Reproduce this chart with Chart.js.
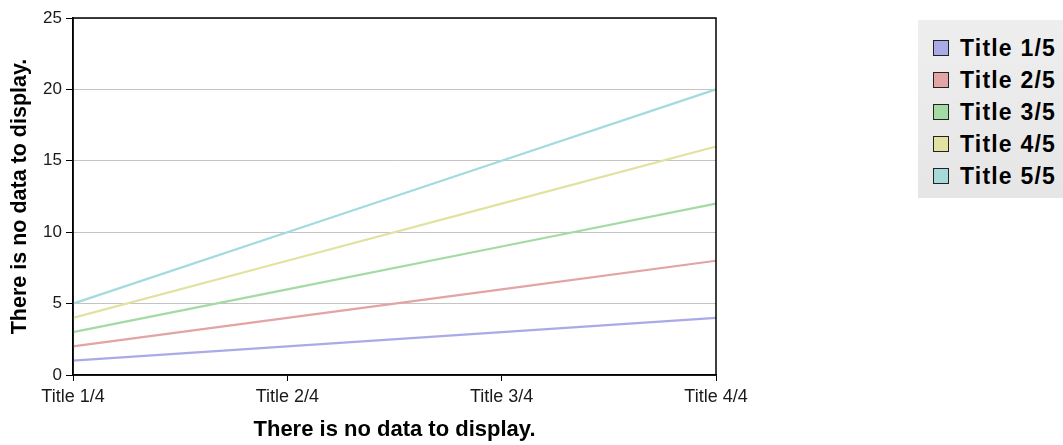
<!DOCTYPE html>
<html>
<head>
<meta charset="utf-8">
<script src="https://cdn.jsdelivr.net/npm/chart.js@4"></script>
<style>
  body { margin: 0; background: #fff; font-family: "Liberation Sans", Arial, sans-serif; }
  #wrap { position: relative; width: 1063px; height: 445px; }
  #legenda {
    position: absolute; left: 918px; top: 20px; width: 145px; height: 178px;
    background: linear-gradient(#eeeeee, #e6e6e6);
    box-sizing: border-box; padding-top: 12px; padding-left: 15px;
  }
  .item { height: 32px; display: flex; align-items: center; font-weight: bold; font-size: 23px; letter-spacing: 1.2px; color: #000; }
  .caixa { width: 14px; height: 14px; border: 1.5px solid #222; margin-right: 11px; flex: none; }
</style>
</head>
<body>
<div id="wrap">
  <canvas id="grafico" width="1063" height="445"></canvas>
  <div id="legenda"></div>
</div>
<script>
const categorias = ['Title 1/4', 'Title 2/4', 'Title 3/4', 'Title 4/4'];
const series = ['Title 1/5', 'Title 2/5', 'Title 3/5', 'Title 4/5', 'Title 5/5'];
const serie1 = [1, 2, 3, 4];
const serie2 = [2, 4, 6, 8];
const serie3 = [3, 6, 9, 12];
const serie4 = [4, 8, 12, 16];
const serie5 = [5, 10, 15, 20];
const tituloEixo = 'There is no data to display.';

const cores = ['#aaaae6', '#e2a4a4', '#a4daa4', '#e2e2a0', '#a4dada'];
const valores = [serie1, serie2, serie3, serie4, serie5];

// moldura do grafico (topo e direita)
const moldura = {
  id: 'moldura',
  afterDraw(chart) {
    const { ctx, chartArea: a } = chart;
    ctx.save();
    ctx.strokeStyle = '#000';
    ctx.lineWidth = 1.5;
    ctx.strokeRect(a.left, a.top, a.right - a.left, a.bottom - a.top);
    ctx.restore();
  }
};

const ctx = document.getElementById('grafico').getContext('2d');
const grafico = new Chart(ctx, {
  type: 'line',
  data: {
    labels: categorias,
    datasets: series.map((nome, i) => ({
      label: nome,
      data: valores[i],
      borderColor: cores[i],
      backgroundColor: cores[i],
      borderWidth: 2.2,
      pointRadius: 0,
      tension: 0,
      fill: false
    }))
  },
  options: {
    responsive: false,
    animation: false,
    layout: { padding: { left: 0, top: 18, right: 347, bottom: 0 } },
    plugins: { legend: { display: false }, tooltip: { enabled: false } },
    scales: {
      x: {
        offset: false,
        afterFit(s) { s.height = 70; },
        grid: { drawOnChartArea: false, tickLength: 6, tickColor: '#000' },
        border: { color: '#000', width: 1.5 },
        ticks: { color: '#1a1a1a', font: { family: 'Liberation Sans', size: 18 }, padding: 5, maxRotation: 0 },
        title: { display: true, text: tituloEixo, color: '#000', font: { family: 'Liberation Sans', size: 22, weight: 'bold' }, padding: { top: 0, bottom: 2 } }
      },
      y: {
        min: 0, max: 25,
        afterFit(s) { s.width = 73; },
        grid: { color: '#c4c4c4', lineWidth: 1, tickLength: 7, tickColor: '#000' },
        border: { color: '#000', width: 1.5 },
        ticks: { stepSize: 5, color: '#1a1a1a', font: { family: 'Liberation Sans', size: 17 }, padding: 4 },
        title: { display: true, text: tituloEixo, color: '#000', font: { family: 'Liberation Sans', size: 21.5, weight: 'bold' }, padding: { top: 7, bottom: 0 } }
      }
    }
  },
  plugins: [moldura]
});

// legenda em html
const legenda = document.getElementById('legenda');
series.forEach((nome, i) => {
  const item = document.createElement('div');
  item.className = 'item';
  item.innerHTML = '<span class="caixa" style="background:' + cores[i] + '"></span>' + nome;
  legenda.appendChild(item);
});
</script>
</body>
</html>
